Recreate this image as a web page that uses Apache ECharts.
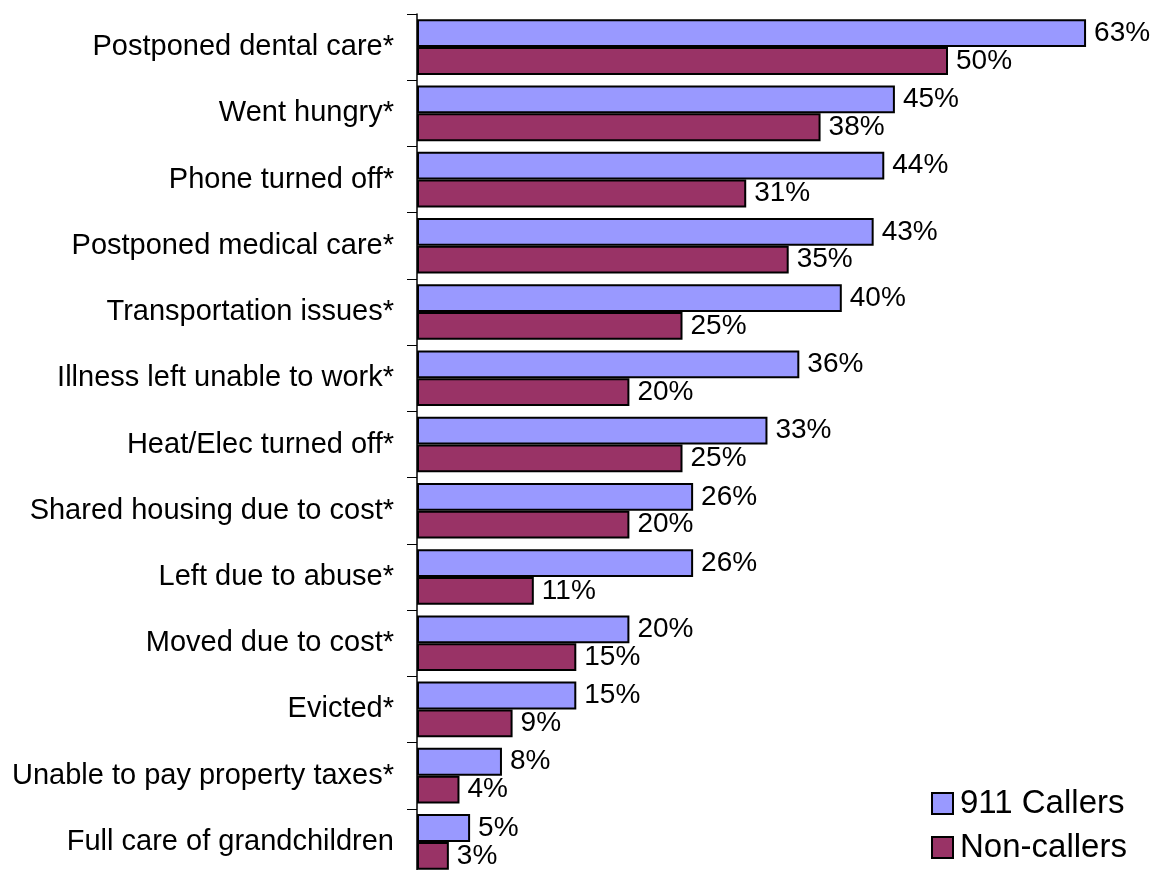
<!DOCTYPE html>
<html>
<head>
<meta charset="utf-8">
<script src="https://cdn.jsdelivr.net/npm/echarts@6/dist/echarts.min.js"></script>
<style>
html,body{margin:0;padding:0;background:#fff;overflow:hidden;width:1156px;height:870px;}
#chart{width:1156px;height:880px;}
</style>
</head>
<body>
<div id="chart"></div>
<script>
const categories = [
  "Postponed dental care*",
  "Went hungry*",
  "Phone turned off*",
  "Postponed medical care*",
  "Transportation issues*",
  "Illness left unable to work*",
  "Heat/Elec turned off*",
  "Shared housing due to cost*",
  "Left due to abuse*",
  "Moved due to cost*",
  "Evicted*",
  "Unable to pay property taxes*",
  "Full care of grandchildren"
];
const callers = [63, 45, 44, 43, 40, 36, 33, 26, 26, 20, 15, 8, 5];
const nonCallers = [50, 38, 31, 35, 25, 20, 25, 20, 11, 15, 9, 4, 3];
const seriesNames = ["911 Callers", "Non-callers"];

const FONT = "Liberation Sans, Arial, sans-serif";
const chart = echarts.init(document.getElementById('chart'), null, {renderer: 'canvas'});
const labelStyle = {
  show: true,
  position: 'right',
  distance: 8,
  color: '#000',
  fontFamily: FONT,
  fontSize: 28,
  formatter: p => p.value + '%'
};
chart.setOption({
  animation: false,
  backgroundColor: '#fff',
  grid: {left: 417, top: 14, width: 690.3, height: 861, containLabel: false},
  xAxis: {
    type: 'value', min: 0, max: 65, show: false
  },
  yAxis: {
    type: 'category',
    data: categories,
    inverse: true,
    axisLine: {show: true, lineStyle: {color: '#000', width: 1.5}},
    axisTick: {show: true, length: 10, lineStyle: {color: '#000', width: 1}},
    axisLabel: {color: '#000', fontFamily: FONT, fontSize: 29, margin: 23},
    splitLine: {show: false}
  },
  legend: {
    orient: 'vertical',
    left: 931,
    top: 787,
    padding: 0,
    itemWidth: 21,
    itemHeight: 21,
    itemGap: 11,
    icon: 'rect',
    itemStyle: {borderColor: '#000', borderWidth: 2},
    textStyle: {color: '#000', fontFamily: FONT, fontSize: 33, lineHeight: 33, padding: [0,0,0,2]},
    data: seriesNames
  },
  series: [
    {
      name: seriesNames[0], type: 'bar', data: callers,
      barCategoryGap: '16%', barGap: '0%',
      itemStyle: {color: '#9999FF', borderColor: '#000', borderWidth: 2},
      label: labelStyle
    },
    {
      name: seriesNames[1], type: 'bar', data: nonCallers,
      barCategoryGap: '16%', barGap: '0%',
      itemStyle: {color: '#993366', borderColor: '#000', borderWidth: 2},
      label: labelStyle
    }
  ]
});
</script>
</body>
</html>
